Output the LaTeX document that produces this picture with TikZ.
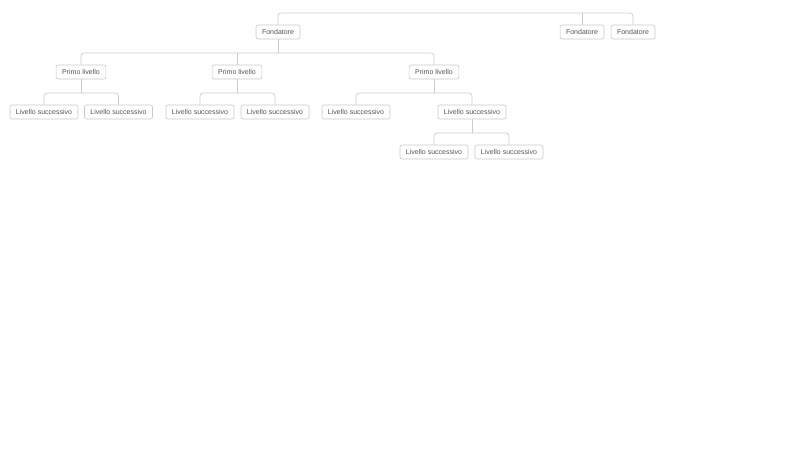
\documentclass[tikz,border=0pt]{standalone}
\usepackage{fontspec}
\setmainfont{Liberation Sans}
\definecolor{boxline}{HTML}{C8C8C8}
\definecolor{connline}{HTML}{CCCCCC}
\definecolor{txt}{HTML}{555555}
\begin{document}
\begin{tikzpicture}[x=1pt,y=-1pt,
  box/.style={draw=boxline, line width=0.6pt, rounded corners=2pt, fill=white,
    text=txt, font=\fontsize{7}{8}\selectfont, inner xsep=6pt, inner ysep=0pt,
    minimum height=14pt},
  conn/.style={draw=connline, line width=0.7pt, rounded corners=3pt}]
\useasboundingbox (0,0) rectangle (800,450);
\coordinate (ya) at (0,13);
\coordinate (yb) at (0,53);
\coordinate (yc) at (0,93);
\coordinate (yd) at (0,133);
\node[box] (f1) at (278,32) {Fondatore};
\node[box] (f2) at (582,32) {Fondatore};
\node[box] (f3) at (633,32) {Fondatore};
\node[box] (p1) at (81,72) {Primo livello};
\node[box] (p2) at (237,72) {Primo livello};
\node[box] (p3) at (434,72) {Primo livello};
\node[box] (l1) at (44,112) {Livello successivo};
\node[box] (l2) at (118.5,112) {Livello successivo};
\node[box] (l3) at (200,112) {Livello successivo};
\node[box] (l4) at (275,112) {Livello successivo};
\node[box] (l5) at (356,112) {Livello successivo};
\node[box] (l6) at (472,112) {Livello successivo};
\node[box] (m1) at (434,152) {Livello successivo};
\node[box] (m2) at (509,152) {Livello successivo};
% top bus
\draw[conn] (f1.north) -- (f1.north |- ya) -- (f3.north |- ya) -- (f3.north);
\draw[conn] (f2.north) -- (f2.north |- ya);
% fondatore -> primo livello
\draw[conn] (p1.north) -- (p1.north |- yb) -- (p3.north |- yb) -- (p3.north);
\draw[conn] (f1.south) -- (f1.south |- yb);
\draw[conn] (p2.north) -- (p2.north |- yb);
% primo livello -> livello successivo
\draw[conn] (l1.north) -- (l1.north |- yc) -- (l2.north |- yc) -- (l2.north);
\draw[conn] (p1.south) -- (p1.south |- yc);
\draw[conn] (l3.north) -- (l3.north |- yc) -- (l4.north |- yc) -- (l4.north);
\draw[conn] (p2.south) -- (p2.south |- yc);
\draw[conn] (l5.north) -- (l5.north |- yc) -- (l6.north |- yc) -- (l6.north);
\draw[conn] (p3.south) -- (p3.south |- yc);
% third level
\draw[conn] (m1.north) -- (m1.north |- yd) -- (m2.north |- yd) -- (m2.north);
\draw[conn] (l6.south) -- (l6.south |- yd);
\end{tikzpicture}
\end{document}
